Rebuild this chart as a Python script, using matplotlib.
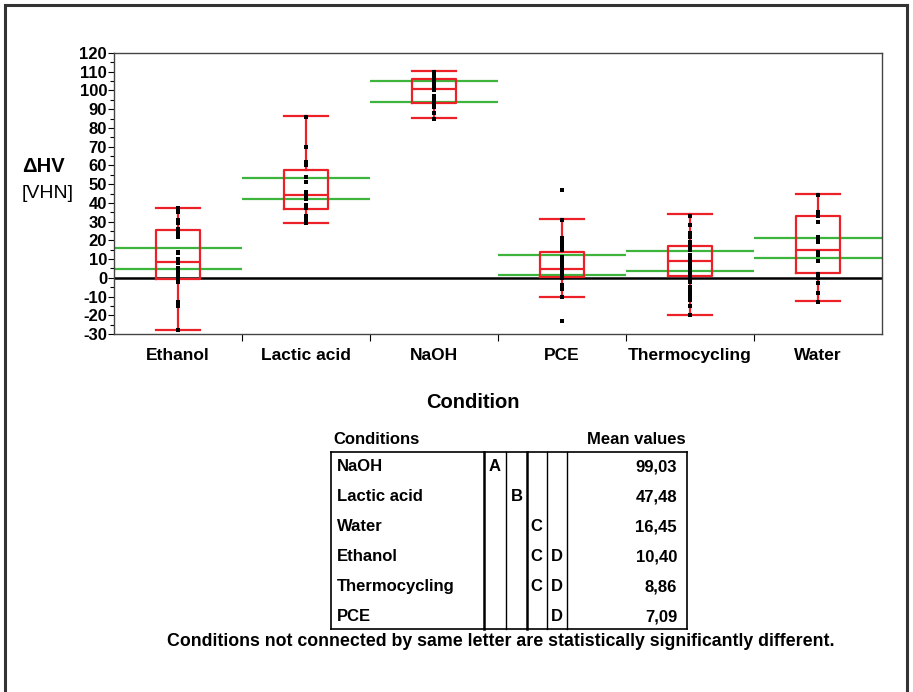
import matplotlib
matplotlib.use("Agg")
import matplotlib.pyplot as plt
from matplotlib.lines import Line2D

plt.rcParams['font.family'] = ['Liberation Sans', 'DejaVu Sans']

# ---------------- data ----------------
categories = ["Ethanol", "Lactic acid", "NaOH", "PCE", "Thermocycling", "Water"]

points_ethanol = [37, 35, 31, 29, 26, 24, 22, 14, 13, 10, 8, 5, 3, 1, 0, -2, -13, -15, -28]
points_lactic = [86, 70, 62, 60, 54, 51, 46, 44, 42, 39, 37, 33, 31, 29]
points_naoh = [110, 108, 106, 104, 102, 100, 97, 95, 93, 91, 88, 85]
points_pce = [47, 31, 21, 19, 17, 15, 11, 9, 7, 5, 3, 1, 0, -4, -6, -10, -23]
points_thermo = [33, 28, 24, 22, 19, 17, 15, 12, 10, 9, 7, 5, 3, 1, -1, -2, -5, -6, -8, -10, -12, -15, -20]
points_water = [44, 35, 33, 30, 22, 20, 19, 14, 12, 9, 2, 0, -3, -8, -13]
points = [points_ethanol, points_lactic, points_naoh, points_pce, points_thermo, points_water]

# box plot statistics
whisker_low = [-28.0, 29.1, 85.3, -10.4, -20.0, -12.5]
q1 = [-0.8, 36.6, 93.5, 0.2, 1.0, 2.4]
median = [8.4, 44.0, 100.6, 4.9, 9.1, 14.8]
q3 = [25.4, 57.4, 106.0, 13.8, 17.1, 33.0]
whisker_high = [37.3, 86.4, 110.2, 31.4, 33.9, 44.7]

# 95% confidence interval of the mean (green lines)
ci_low = [4.9, 41.9, 93.9, 1.7, 3.5, 10.5]
ci_high = [15.9, 53.3, 104.9, 12.3, 14.1, 21.2]

# connecting letters report
table_conditions = ["NaOH", "Lactic acid", "Water", "Ethanol", "Thermocycling", "PCE"]
table_letters = [["A", "", "", ""], ["", "B", "", ""], ["", "", "C", ""],
                 ["", "", "C", "D"], ["", "", "C", "D"], ["", "", "", "D"]]
table_means = ["99,03", "47,48", "16,45", "10,40", "8,86", "7,09"]

y_ticks = list(range(-30, 121, 10))

# ---------------- figure ----------------
W, H = 913, 692
fig = plt.figure(figsize=(W / 100, H / 100), dpi=100)


def fx(x):
    return x / W


def fy(y):
    return 1 - y / H


RED = "#EC2027"
GREEN = "#3DB53D"

ax = fig.add_axes([fx(114), fy(334), fx(882) - fx(114), fy(53) - fy(334)])

n = len(categories)
pos = [i + 0.5 for i in range(n)]
bw = 0.344

stats = []
for i in range(n):
    stats.append(dict(med=median[i], q1=q1[i], q3=q3[i],
                      whislo=whisker_low[i], whishi=whisker_high[i], fliers=[]))

lp = dict(color=RED, linewidth=1.6)
ax.bxp(stats, positions=pos, widths=bw, capwidths=bw, showfliers=False,
       boxprops=lp, whiskerprops=lp, capprops=lp, medianprops=lp,
       manage_ticks=False, zorder=3)

for i in range(n):
    ax.hlines([ci_low[i], ci_high[i]], i, i + 1, color=GREEN, linewidth=1.6, zorder=2)

ax.axhline(0, color="black", linewidth=1.8, zorder=2.5)

for i in range(n):
    ax.plot([pos[i]] * len(points[i]), points[i], "s", color="black",
            markersize=2.3, markeredgewidth=0, zorder=5)

ax.set_xlim(0, n)
ax.set_ylim(-30, 120)
ax.set_yticks(y_ticks)
ax.set_yticklabels([str(v) for v in y_ticks], fontsize=12, fontweight="bold")
ax.set_yticks([v + 5 for v in y_ticks[:-1]], minor=True)
ax.tick_params(axis="y", which="major", length=4, width=0.8, pad=1)
ax.tick_params(axis="y", which="minor", length=3, width=0.8)

ax.set_xticks(list(range(1, n)))
ax.set_xticklabels([])
ax.set_xticks(pos, minor=True)
ax.set_xticklabels(categories, minor=True, fontsize=12.5, fontweight="bold")
ax.tick_params(axis="x", which="major", length=5, width=0.8)
ax.tick_params(axis="x", which="minor", length=0, pad=10)

for s in ax.spines.values():
    s.set_color("#444444")
    s.set_linewidth(1.0)

# axis titles
fig.text(fx(22), fy(167), "ΔHV", fontsize=14.5, fontweight="bold", ha="left", va="center")
fig.text(fx(22), fy(194), "[VHN]", fontsize=14, ha="left", va="center")
fig.text(fx(473), fy(402), "Condition", fontsize=14.5, fontweight="bold", ha="center", va="center")

# ---------------- table ----------------
tfs = 12
tw = "bold"
fig.text(fx(333), fy(439), "Conditions", fontsize=tfs, fontweight=tw, ha="left", va="center")
fig.text(fx(686), fy(439), "Mean values", fontsize=tfs, fontweight=tw, ha="right", va="center")

tl, tr, tt, tb = 331, 687, 452, 629
box_lines = [((tl, tr), (tt, tt)), ((tl, tr), (tb, tb)),
             ((tl, tl), (tt, tb)), ((tr, tr), (tt, tb))]
for xs, ys in box_lines:
    fig.add_artist(Line2D([fx(xs[0]), fx(xs[1])], [fy(ys[0]), fy(ys[1])],
                          color="black", linewidth=1.2))
vlines = [(484, 1.8), (505.7, 1.0), (526.7, 1.8), (547.3, 1.0), (566.7, 1.0)]
for x, lw in vlines:
    fig.add_artist(Line2D([fx(x), fx(x)], [fy(tt), fy(tb)], color="black", linewidth=lw))

letter_x = [495, 516.7, 536.7, 556.7]
for r in range(len(table_conditions)):
    yy = 466.5 + 30 * r
    fig.text(fx(337), fy(yy), table_conditions[r], fontsize=tfs, fontweight=tw,
             ha="left", va="center")
    for c in range(4):
        if table_letters[r][c]:
            fig.text(fx(letter_x[c]), fy(yy), table_letters[r][c], fontsize=tfs,
                     fontweight=tw, ha="center", va="center")
    fig.text(fx(677), fy(yy), table_means[r], fontsize=tfs, fontweight=tw,
             ha="right", va="center")

fig.text(fx(501), fy(641),
         "Conditions not connected by same letter are statistically significantly different.",
         fontsize=12.8, fontweight="bold", ha="center", va="center")

# outer frame
for xs, ys in [((5, 5), (5, 692)), ((5, 907), (5, 5)), ((907, 907), (5, 692))]:
    fig.add_artist(Line2D([fx(xs[0]), fx(xs[1])], [fy(ys[0]), fy(ys[1])],
                          color="#333333", linewidth=2.2))

fig.savefig("out.png", dpi=100)
